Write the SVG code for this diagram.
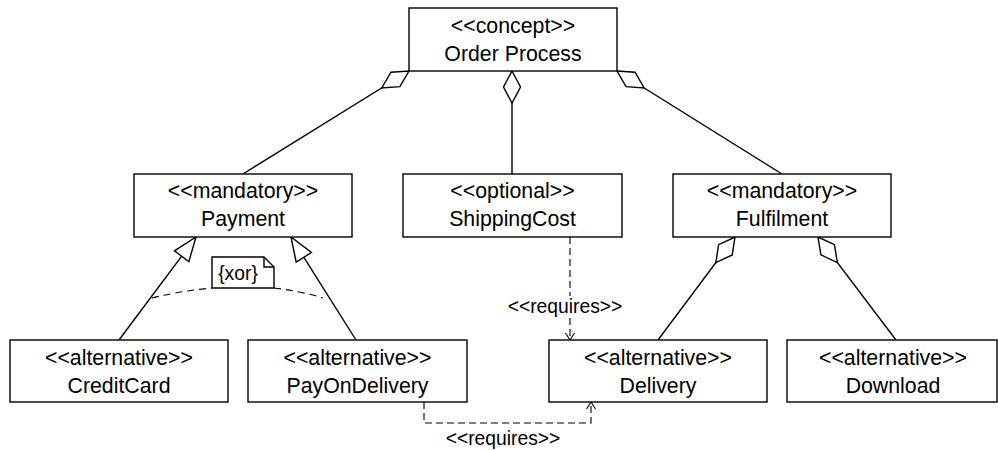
<svg xmlns="http://www.w3.org/2000/svg" width="998" height="450" viewBox="0 0 998 450">
<style>
.box{fill:#fff;stroke:#000;stroke-width:1.4}
.t{font-family:"Liberation Sans",Arial,sans-serif;font-size:21.3px;fill:#000;text-anchor:middle}
.s{font-family:"Liberation Sans",Arial,sans-serif;font-size:19.3px;fill:#000;text-anchor:middle}
.ln{fill:none;stroke:#000;stroke-width:1.4}
.agg{marker-start:url(#diamond)}
.gen{marker-end:url(#tri)}
.dep{fill:none;stroke:#000;stroke-width:1.1;stroke-dasharray:7 4;marker-end:url(#open)}
.anc{fill:none;stroke:#000;stroke-width:1.1;stroke-dasharray:7 5}
</style>
<defs>
<marker id="diamond" markerUnits="userSpaceOnUse" orient="auto" refX="0" refY="0" markerWidth="34" markerHeight="20" overflow="visible">
<path d="M0,0 L16,-8.5 L32,0 L16,8.5 Z" fill="#fff" stroke="#000" stroke-width="1.4"/>
</marker>
<marker id="tri" markerUnits="userSpaceOnUse" orient="auto" refX="0" refY="0" markerWidth="26" markerHeight="20" overflow="visible">
<path d="M0,0 L-24,-9 L-24,9 Z" fill="#fff" stroke="#000" stroke-width="1.4"/>
</marker>
<marker id="open" markerUnits="userSpaceOnUse" orient="auto" refX="0" refY="0" markerWidth="10" markerHeight="10" overflow="visible">
<path d="M-7,-4.5 L0,0 L-7,4.5" fill="none" stroke="#000" stroke-width="1.1"/>
</marker>
</defs>
<g id="connectors">
<path class="ln agg" d="M409,71 L243,174"/>
<path class="ln agg" d="M512,71 L512,174"/>
<path class="ln agg" d="M617,71 L782,174"/>
<path class="ln agg" d="M735,237 L658,340"/>
<path class="ln agg" d="M818,237 L896,340"/>
<path class="ln gen" d="M119,340 L196,237"/>
<path class="ln gen" d="M356,340 L291,237"/>
<path class="dep" d="M570,237 V296 M570,318 V340"/>
<path class="dep" d="M424,402 V423 H591 V402"/>
<text class="s" x="565" y="313">&lt;&lt;requires&gt;&gt;</text>
<text class="s" x="503" y="445">&lt;&lt;requires&gt;&gt;</text>
</g>
<g id="xor">
<path class="anc" d="M152,298 Q180,291 212,288"/>
<path class="anc" d="M274,288 Q300,291 323,298"/>
<path class="box" d="M212,257 H264 L274,267 V288 H212 Z"/>
<path class="ln" d="M264,257 V267 H274"/>
<text class="s" x="238" y="280">{xor}</text>
</g>
<g id="order-process">
<rect class="box" x="409" y="8" width="208" height="63"/>
<text class="t" x="513" y="33">&lt;&lt;concept&gt;&gt;</text>
<text class="t" x="513" y="61">Order Process</text>
</g>
<g id="payment">
<rect class="box" x="134" y="174" width="218" height="63"/>
<text class="t" x="243" y="198">&lt;&lt;mandatory&gt;&gt;</text>
<text class="t" x="243" y="226">Payment</text>
</g>
<g id="shippingcost">
<rect class="box" x="403" y="174" width="219" height="63"/>
<text class="t" x="512.5" y="198">&lt;&lt;optional&gt;&gt;</text>
<text class="t" x="512.5" y="226">ShippingCost</text>
</g>
<g id="fulfilment">
<rect class="box" x="673" y="174" width="218" height="63"/>
<text class="t" x="782" y="198">&lt;&lt;mandatory&gt;&gt;</text>
<text class="t" x="782" y="226">Fulfilment</text>
</g>
<g id="creditcard">
<rect class="box" x="10" y="340" width="218" height="62"/>
<text class="t" x="119" y="365">&lt;&lt;alternative&gt;&gt;</text>
<text class="t" x="119" y="393">CreditCard</text>
</g>
<g id="payondelivery">
<rect class="box" x="248" y="340" width="219" height="62"/>
<text class="t" x="357.5" y="365">&lt;&lt;alternative&gt;&gt;</text>
<text class="t" x="357.5" y="393">PayOnDelivery</text>
</g>
<g id="delivery">
<rect class="box" x="549" y="340" width="218" height="62"/>
<text class="t" x="658" y="365">&lt;&lt;alternative&gt;&gt;</text>
<text class="t" x="658" y="393">Delivery</text>
</g>
<g id="download">
<rect class="box" x="787" y="340" width="210" height="62"/>
<text class="t" x="893" y="365">&lt;&lt;alternative&gt;&gt;</text>
<text class="t" x="893" y="393">Download</text>
</g>
</svg>
